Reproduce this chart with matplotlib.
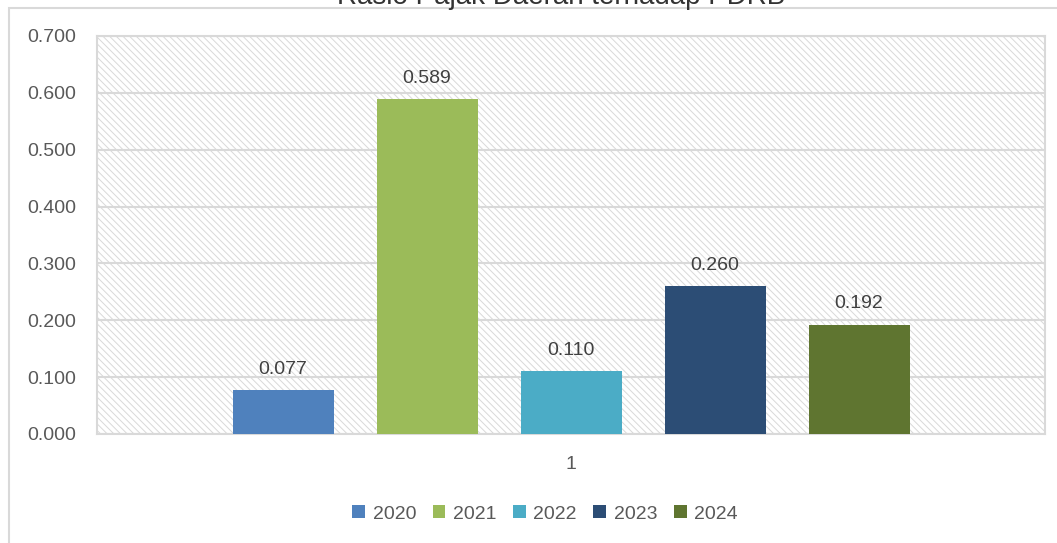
import matplotlib
matplotlib.use("Agg")
import matplotlib.pyplot as plt
from matplotlib.patches import Rectangle
import numpy as np

# data
title = "Rasio Pajak Daerah terhadap PDRB"
category = "1"
years = ["2020", "2021", "2022", "2023", "2024"]
values = [0.077, 0.589, 0.110, 0.260, 0.192]
colors = ["#4f81bd", "#9bbb59", "#4bacc6", "#2c4d75", "#5f7530"]

plt.rcParams['font.family'] = ['Liberation Sans', 'DejaVu Sans']
plt.rcParams['hatch.linewidth'] = 0.7

grey = "#d9d9d9"
txt = "#595959"

fig = plt.figure(figsize=(10.57, 5.43), dpi=100)
ax = fig.add_axes([97/1057, 1-434/543, 948/1057, 398/543])

# outer chart frame (cropped on right/bottom)
fig.add_artist(Rectangle((9/1057, -0.2), 1.2, 0.2 + 1 - 8/543, transform=fig.transFigure,
                         facecolor="none", edgecolor=grey, lw=1.5))

# hatched plot background
ax.add_patch(Rectangle((0, 0), 1, 1, transform=ax.transAxes, facecolor="white",
                       edgecolor=grey, hatch="\\" * 5, lw=0, zorder=0))

width = 101/948
step = 144/948
offsets = (np.arange(len(years)) - 2) * step
for i, (yr, v, c) in enumerate(zip(years, values, colors)):
    ax.bar(offsets[i], v, width=width, color=c, label=yr, zorder=3)
    ax.annotate("%.3f" % v, (offsets[i], v), xytext=(0, 9), textcoords="offset points",
                ha="center", va="bottom", fontsize=14, color="#404040", zorder=4)

ax.set_xlim(-0.5, 0.5)
ax.set_ylim(0, 0.7)
ax.set_yticks(np.arange(0, 0.71, 0.1))
ax.set_yticklabels(["%.3f" % t for t in np.arange(0, 0.71, 0.1)])
ax.set_xticks([0])
ax.set_xticklabels([category])
ax.tick_params(axis="y", length=0, pad=15, labelsize=14, labelcolor=txt)
ax.tick_params(axis="x", length=0, pad=16, labelsize=14, labelcolor=txt)
ax.yaxis.grid(True, color=grey, lw=1.5, zorder=1)
ax.set_axisbelow(True)
for s in ax.spines.values():
    s.set_color(grey)
    s.set_linewidth(1.5)

ax.legend(loc="center", bbox_to_anchor=(545/1057, 1-514/543), bbox_transform=fig.transFigure,
          ncol=5, frameon=False, fontsize=14, labelcolor=txt, handlelength=0.65,
          handleheight=0.65, handletextpad=0.4, columnspacing=0.85)

fig.text(561/1057, 1-4/543, title, ha="center", va="baseline", fontsize=20, color="#333333")

fig.savefig("out.png", dpi=100)
